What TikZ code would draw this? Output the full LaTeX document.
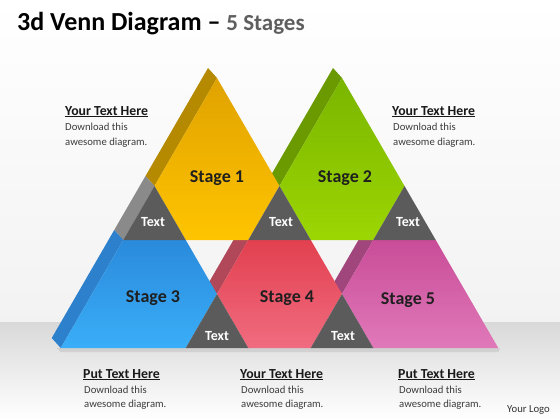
\documentclass[tikz,border=0pt]{standalone}
\usepackage{fontspec}
\setmainfont{Carlito}
\usetikzlibrary{calc}

\definecolor{yellowtop}{HTML}{E0A200}
\definecolor{yellowbot}{HTML}{FFC400}
\definecolor{yellowside}{HTML}{B58A00}
\definecolor{greentop}{HTML}{7AB500}
\definecolor{greenbot}{HTML}{9CD602}
\definecolor{greenside}{HTML}{6A9A00}
\definecolor{bluetop}{HTML}{2A8ADB}
\definecolor{bluebot}{HTML}{3AAEF8}
\definecolor{blueside}{HTML}{2C80CC}
\definecolor{redtop}{HTML}{E2404F}
\definecolor{redbot}{HTML}{F06C80}
\definecolor{redside}{HTML}{B0485A}
\definecolor{pinktop}{HTML}{C94C98}
\definecolor{pinkbot}{HTML}{E079B9}
\definecolor{pinkside}{HTML}{A0467C}
\definecolor{overlapgray}{HTML}{5B5B5B}
\definecolor{overlapside}{HTML}{8A8A8A}
\definecolor{subtitle}{HTML}{5F5F5F}
\definecolor{bodygray}{HTML}{3C3C3C}

\tikzset{
  stagelabel/.style={inner sep=0pt, text=black!88,
    font=\bfseries\fontsize{18}{21}\selectfont},
  textlabel/.style={inner sep=0pt, text=white,
    font=\bfseries\fontsize{14}{16}\selectfont},
  heading/.style={anchor=base west, inner sep=0pt, text=black!90,
    font=\bfseries\fontsize{13.8}{16}\selectfont},
  bodytext/.style={anchor=base west, inner sep=0pt, text=bodygray,
    font=\fontsize{10.7}{14}\selectfont},
}

% side face of a prism edge: from #1 to #2, colour #3
\newcommand{\sideband}[3]{%
  \fill[#3] (#1) -- (#2) -- ($(#2)+(-9,-10)$) -- ($(#1)+(-9,-10)$) -- cycle;}

\begin{document}
\begin{tikzpicture}[x=1pt,y=-1pt]

\useasboundingbox (0,0) rectangle (560,420);
\shade[top color=white, bottom color=black!5] (0,0) rectangle (560,322);
\shade[top color=black!15, bottom color=white] (0,322) rectangle (560,420);

%% grid points of the triangles
\coordinate (a1) at (217,78);
\coordinate (a2) at (342,78);
\coordinate (b1) at (154.5,186);
\coordinate (b2) at (279.5,186);
\coordinate (b3) at (404.5,186);
\coordinate (c1) at (123.25,240);
\coordinate (c2) at (185.75,240);
\coordinate (c3) at (248.25,240);
\coordinate (c4) at (310.75,240);
\coordinate (c5) at (373.25,240);
\coordinate (c6) at (435.75,240);
\coordinate (d1) at (217,294);
\coordinate (d2) at (342,294);
\coordinate (e1) at (60.75,348);
\coordinate (e2) at (185.75,348);
\coordinate (e3) at (248.25,348);
\coordinate (e4) at (310.75,348);
\coordinate (e5) at (373.25,348);
\coordinate (e6) at (498.25,348);

% floor shadow
\fill[black!25, opacity=0.5] ($(e1)+(-4,0)$) -- ($(e6)+(2,0)$) -- ($(e6)+(0,4)$) -- ($(e1)+(0,4)$) -- cycle;

% side faces
\sideband{a1}{b1}{yellowside}
\sideband{b1}{c1}{overlapside}
\sideband{c1}{e1}{blueside}
\sideband{a2}{b2}{greenside}
\sideband{c3}{d1}{redside}
\sideband{c5}{d2}{pinkside}

% front faces
\shade[top color=yellowtop, bottom color=yellowbot] (a1) -- (b1) -- (c2) -- (c3) -- (b2) -- cycle;
\shade[top color=greentop, bottom color=greenbot] (a2) -- (b2) -- (c4) -- (c5) -- (b3) -- cycle;
\shade[top color=bluetop, bottom color=bluebot] (c1) -- (c2) -- (d1) -- (e2) -- (e1) -- cycle;
\shade[top color=redtop, bottom color=redbot] (c3) -- (c4) -- (d2) -- (e4) -- (e3) -- (d1) -- cycle;
\shade[top color=pinktop, bottom color=pinkbot] (c5) -- (c6) -- (e6) -- (e5) -- (d2) -- cycle;

% overlaps
\fill[overlapgray] (b1) -- (c2) -- (c1) -- cycle;
\fill[overlapgray] (b2) -- (c4) -- (c3) -- cycle;
\fill[overlapgray] (b3) -- (c6) -- (c5) -- cycle;
\fill[overlapgray] (d1) -- (e3) -- (e2) -- cycle;
\fill[overlapgray] (d2) -- (e5) -- (e4) -- cycle;

\node[stagelabel] (stage1) at (217,178) {Stage 1};
\node[stagelabel] (stage2) at (345,178) {Stage 2};
\node[stagelabel] (stage3) at (153,298) {Stage 3};
\node[stagelabel] (stage4) at (287,298) {Stage 4};
\node[stagelabel] (stage5) at (408,300) {Stage 5};

\node[textlabel] (text1) at (153,222) {Text};
\node[textlabel] (text2) at (281,222) {Text};
\node[textlabel] (text3) at (408,222) {Text};
\node[textlabel] (text4) at (217,336) {Text};
\node[textlabel] (text5) at (343,336) {Text};

%% title
\node[anchor=base west, inner sep=0pt, font=\bfseries\fontsize{26}{30}\selectfont] (title) at (17,31)
  {3d Venn Diagram -- {\color{subtitle}\fontsize{23}{27}\selectfont 5 Stages}};

%% side notes
\node[heading] (headleft) at (65,115) {\underline{Your Text Here}};
\node[bodytext] (bodyleftA) at (65,131) {Download this};
\node[bodytext] (bodyleftB) at (65,145) {awesome diagram.};
\node[heading] (headright) at (392,115) {\underline{Your Text Here}};
\node[bodytext] (bodyrightA) at (393,131) {Download this};
\node[bodytext] (bodyrightB) at (393,145) {awesome diagram.};

\node[heading] (headone) at (83,378) {\underline{Put Text Here}};
\node[bodytext] (bodyoneA) at (84,393) {Download this};
\node[bodytext] (bodyoneB) at (84,407) {awesome diagram.};
\node[heading] (headtwo) at (240,378) {\underline{Your Text Here}};
\node[bodytext] (bodytwoA) at (241,393) {Download this};
\node[bodytext] (bodytwoB) at (241,407) {awesome diagram.};
\node[heading] (headthree) at (398,378) {\underline{Put Text Here}};
\node[bodytext] (bodythreeA) at (399,393) {Download this};
\node[bodytext] (bodythreeB) at (399,407) {awesome diagram.};

\node[bodytext, text=black!80] (logo) at (507,412) {Your Logo};
\end{tikzpicture}
\end{document}
